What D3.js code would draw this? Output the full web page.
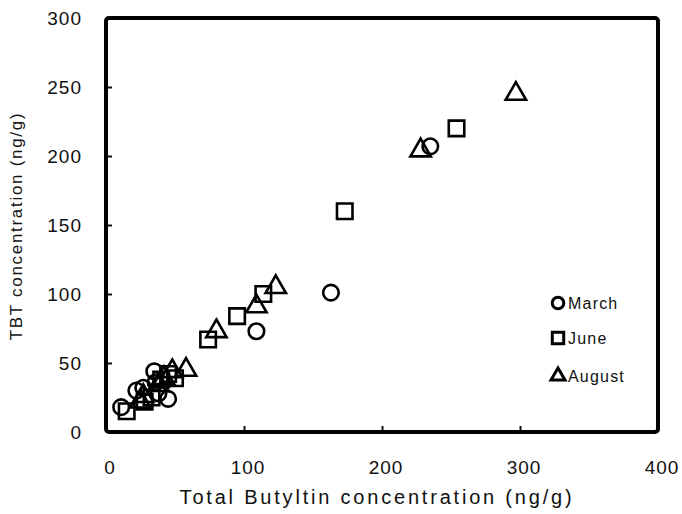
<!DOCTYPE html>
<html>
<head>
<meta charset="utf-8">
<script src="https://cdn.jsdelivr.net/npm/d3@7"></script>
<style>
  body { margin: 0; background: #fff; }
  text { font-family: "Liberation Sans", Arial, sans-serif; fill: #111; }
</style>
</head>
<body>
<script>
// values: [total butyltin, TBT] in ng/g
const march = [[11, 18], [22, 30], [27, 32], [35, 44], [38, 28], [45, 24], [36, 36],
    [109, 73], [163, 101], [235, 207]];
const june = [[15, 15], [28, 22], [33, 25], [40, 38], [45, 42], [50, 39],
    [74, 67], [95, 84], [114, 100], [173, 160], [254, 220]];
const august = [[25, 22], [27, 26], [38, 34], [42, 39], [48, 44], [58, 45],
    [80, 73], [109, 91], [123, 105], [228, 204], [297, 245]];
const seriesNames = ["March", "June", "August"];
const xTicks = [0, 100, 200, 300, 400];
const yTicks = [0, 50, 100, 150, 200, 250, 300];

const width = 682, height = 514;
const margin = { left: 106, right: 24, top: 18, bottom: 82 };

const svg = d3.select("body").append("svg")
    .attr("width", width)
    .attr("height", height);

const x = d3.scaleLinear().domain([0, 400]).range([margin.left, width - margin.right]);
const y = d3.scaleLinear().domain([0, 300]).range([height - margin.bottom, margin.top]);

// inward ticks on bottom and left
svg.append("g")
    .attr("transform", "translate(0," + y(0) + ")")
    .call(d3.axisBottom(x).tickValues(xTicks.slice(1, -1)).tickSize(-6).tickFormat(""))
    .call(g => g.select(".domain").remove())
    .selectAll("line").attr("stroke", "#111").attr("stroke-width", 2);

svg.append("g")
    .attr("transform", "translate(" + x(0) + ",0)")
    .call(d3.axisLeft(y).tickValues(yTicks.slice(1, -1)).tickSize(-6).tickFormat(""))
    .call(g => g.select(".domain").remove())
    .selectAll("line").attr("stroke", "#111").attr("stroke-width", 2);

// tick labels
svg.append("g").selectAll("text")
    .data(xTicks)
    .enter().append("text")
    .attr("x", d => x(d) + 4)
    .attr("y", y(0) + 42)
    .attr("text-anchor", "middle")
    .attr("font-size", 19)
    .attr("letter-spacing", 1)
    .text(d => d);

svg.append("g").selectAll("text")
    .data(yTicks)
    .enter().append("text")
    .attr("x", x(0) - 24)
    .attr("y", d => y(d))
    .attr("dy", "0.36em")
    .attr("text-anchor", "end")
    .attr("font-size", 19)
    .attr("letter-spacing", 1)
    .text(d => d);

// frame
svg.append("rect")
    .attr("x", x(0))
    .attr("y", y(300))
    .attr("width", x(400) - x(0))
    .attr("height", y(0) - y(300))
    .attr("rx", 3)
    .attr("fill", "none")
    .attr("stroke", "#000")
    .attr("stroke-width", 4);

// axis titles
svg.append("text")
    .attr("x", 377)
    .attr("y", 504)
    .attr("text-anchor", "middle")
    .attr("font-size", 20)
    .attr("letter-spacing", 2.8)
    .text("Total Butyltin concentration (ng/g)");

svg.append("text")
    .attr("transform", "translate(22,226) rotate(-90)")
    .attr("text-anchor", "middle")
    .attr("font-size", 17)
    .attr("letter-spacing", 1.7)
    .text("TBT concentration (ng/g)");

// markers
const symbols = [d3.symbolCircle, d3.symbolSquare, d3.symbolTriangle];
const sizes = [190, 240, 180];
const allSeries = [march, june, august];

allSeries.forEach(function(points, i) {
    const sym = d3.symbol().type(symbols[i]).size(sizes[i]);
    svg.append("g")
        .selectAll("path")
        .data(points)
        .enter().append("path")
        .attr("transform", d => "translate(" + x(d[0]) + "," + y(d[1]) + ")")
        .attr("d", sym)
        .attr("fill", "none")
        .attr("stroke", "#000")
        .attr("stroke-width", 2.6);
});

// legend
const legendY = [303, 338, 376];
const legendSizes = [105, 130, 85];
seriesNames.forEach(function(name, i) {
    const sym = d3.symbol().type(symbols[i]).size(legendSizes[i]);
    svg.append("path")
        .attr("transform", "translate(558," + legendY[i] + ")")
        .attr("d", sym)
        .attr("fill", "none")
        .attr("stroke", "#000")
        .attr("stroke-width", 3);
    svg.append("text")
        .attr("x", 568)
        .attr("y", legendY[i])
        .attr("dy", "0.36em")
        .attr("font-size", 16)
        .attr("letter-spacing", 1.2)
        .text(name);
});
</script>
</body>
</html>
